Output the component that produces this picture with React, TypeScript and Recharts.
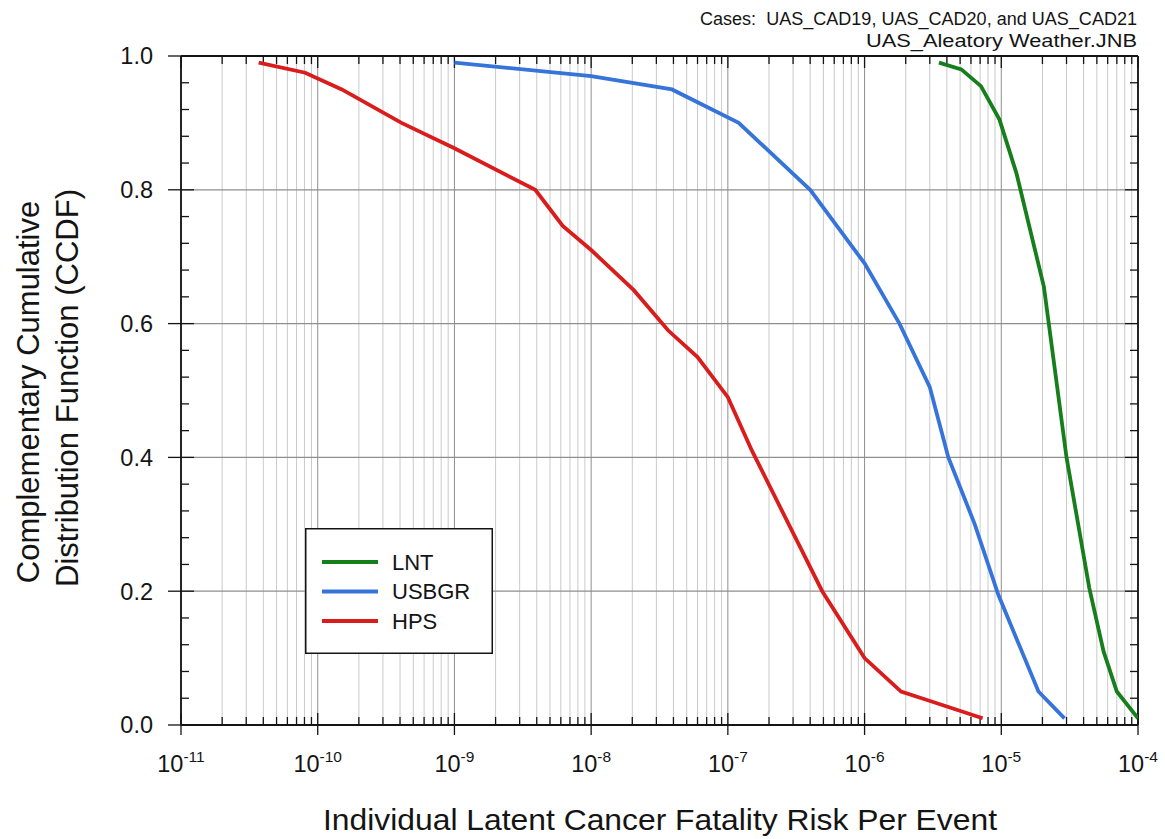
import { LineChart, Line, XAxis, YAxis, ReferenceLine, Legend } from 'recharts'

const FONT = '"Liberation Sans", Arial, Helvetica, sans-serif'
const INK = '#141414'

// axis structure
const xDecades = [1e-11, 1e-10, 1e-9, 1e-8, 1e-7, 1e-6, 1e-5, 1e-4]
const xMinor = xDecades.slice(0, -1).flatMap(d => [2, 3, 4, 5, 6, 7, 8, 9].map(m => m * d))
const yTicks = [0, 0.2, 0.4, 0.6, 0.8, 1]
const yMinor = [
  0.04, 0.08, 0.12, 0.16, 0.24, 0.28, 0.32, 0.36, 0.44, 0.48,
  0.52, 0.56, 0.64, 0.68, 0.72, 0.76, 0.84, 0.88, 0.92, 0.96,
]

// CCDF curves
const lntRisk = [3.5e-6, 5.1e-6, 7.1e-6, 9.7e-6, 1.29e-5, 2.05e-5, 3.0e-5, 4.4e-5, 5.6e-5, 7.0e-5, 1.0e-4]
const lntCcdf = [0.99, 0.98, 0.955, 0.905, 0.825, 0.655, 0.40, 0.205, 0.11, 0.05, 0.01]

const usbgrRisk = [1e-9, 1e-8, 3.9e-8, 1.2e-7, 4e-7, 1e-6, 1.8e-6, 3e-6, 4.1e-6, 6.4e-6, 9.5e-6, 1.87e-5, 2.9e-5]
const usbgrCcdf = [0.99, 0.97, 0.95, 0.90, 0.80, 0.69, 0.60, 0.505, 0.40, 0.30, 0.195, 0.05, 0.01]

const hpsRisk = [
  3.7e-11, 8.1e-11, 1.5e-10, 4.1e-10, 1e-9, 3.9e-9, 6.2e-9, 1e-8, 2.05e-8,
  3.65e-8, 6e-8, 1e-7, 1.5e-7, 4.9e-7, 1e-6, 1.85e-6, 2.9e-6, 7.3e-6,
]
const hpsCcdf = [
  0.99, 0.975, 0.95, 0.90, 0.862, 0.80, 0.746, 0.71, 0.65,
  0.59, 0.55, 0.49, 0.41, 0.20, 0.10, 0.05, 0.037, 0.01,
]

const toPoints = (risk: number[], ccdf: number[]) => risk.map((x, i) => ({ x, y: ccdf[i] }))

const SERIES = [
  { name: 'LNT', color: '#177e1c', data: toPoints(lntRisk, lntCcdf) },
  { name: 'USBGR', color: '#3674d9', data: toPoints(usbgrRisk, usbgrCcdf) },
  { name: 'HPS', color: '#d91d1d', data: toPoints(hpsRisk, hpsCcdf) },
]

// vertical grid line with inward ticks top and bottom
const vGrid = (stroke: string, inner: number) => (p: any) => {
  const top = Math.min(p.y1, p.y2)
  const bottom = Math.max(p.y1, p.y2)
  return (
    <g>
      <line x1={p.x1} x2={p.x1} y1={top} y2={bottom} stroke={stroke} strokeWidth={1} />
      <line x1={p.x1} x2={p.x1} y1={top} y2={top + inner} stroke={INK} strokeWidth={1.3} />
      <line x1={p.x1} x2={p.x1} y1={bottom} y2={bottom - inner} stroke={INK} strokeWidth={1.3} />
    </g>
  )
}

// horizontal grid line (optional) with inward ticks left and right
const hGrid = (stroke: string | null, inner: number) => (p: any) => {
  const left = Math.min(p.x1, p.x2)
  const right = Math.max(p.x1, p.x2)
  return (
    <g>
      {stroke && <line x1={left} x2={right} y1={p.y1} y2={p.y1} stroke={stroke} strokeWidth={1.2} />}
      <line x1={left} x2={left + inner} y1={p.y1} y2={p.y1} stroke={INK} strokeWidth={1.3} />
      <line x1={right} x2={right - inner} y1={p.y1} y2={p.y1} stroke={INK} strokeWidth={1.3} />
    </g>
  )
}

function DecadeTick({ x, y, payload }: any) {
  const exp = Math.round(Math.log10(payload.value))
  return (
    <text x={x} y={y + 35} textAnchor="middle" fontSize={23.5} fontFamily={FONT} fill={INK}>
      10<tspan dy={-10} fontSize={15.5}>{exp}</tspan>
    </text>
  )
}

function ProbTick({ x, y, payload }: any) {
  return (
    <text x={x} y={y} textAnchor="end" dy="0.36em" fontSize={23.5} fontFamily={FONT} fill={INK}>
      {payload.value.toFixed(1)}
    </text>
  )
}

function LegendBox() {
  return (
    <svg width={188} height={126} style={{ display: 'block' }}>
      <rect x={0.75} y={0.75} width={186.5} height={124.5} fill="#fff" stroke={INK} strokeWidth={1.5} />
      {SERIES.map((s, i) => {
        const cy = 34 + i * 29.5
        return (
          <g key={s.name}>
            <line x1={17} x2={73} y1={cy} y2={cy} stroke={s.color} strokeWidth={3.8} />
            <text x={87} y={cy} dy="0.36em" fontSize={22} fontFamily={FONT} fill={INK}>{s.name}</text>
          </g>
        )
      })}
    </svg>
  )
}

export default function App() {
  return (
    <div style={{ position: 'absolute', left: 0, top: 0, width: 1165, height: 839, background: '#fff' }}>
      <svg width={1165} height={60} style={{ position: 'absolute', left: 0, top: 0 }}>
        <text x={1137} y={25} textAnchor="end" fontSize={17.5} fontFamily={FONT} fill={INK}
          textLength={437} lengthAdjust="spacingAndGlyphs">
          {'Cases:\u00a0 UAS_CAD19, UAS_CAD20, and UAS_CAD21'}
        </text>
        <text x={1137} y={47} textAnchor="end" fontSize={17.5} fontFamily={FONT} fill={INK}
          textLength={271} lengthAdjust="spacingAndGlyphs">
          UAS_Aleatory Weather.JNB
        </text>
      </svg>
      <LineChart width={1165} height={839} margin={{ top: 56, right: 27, bottom: 54, left: 111 }}>
        <XAxis
          type="number"
          dataKey="x"
          scale="log"
          domain={[1e-11, 1e-4]}
          allowDataOverflow
          ticks={xDecades}
          interval={0}
          tick={<DecadeTick />}
          tickSize={10}
          tickLine={{ stroke: INK, strokeWidth: 1.3 }}
          axisLine={{ stroke: INK, strokeWidth: 1.8 }}
          height={60}
          label={{
            content: () => (
              <text x={660} y={830} textAnchor="middle" fontSize={29} fontFamily={FONT} fill={INK}
                textLength={674} lengthAdjust="spacingAndGlyphs">
                Individual Latent Cancer Fatality Risk Per Event
              </text>
            ),
          }}
        />
        <YAxis
          type="number"
          domain={[0, 1]}
          ticks={yTicks}
          interval={0}
          width={70}
          tick={<ProbTick />}
          tickSize={13}
          tickMargin={15}
          tickLine={{ stroke: INK, strokeWidth: 1.3 }}
          axisLine={{ stroke: INK, strokeWidth: 1.8 }}
          label={{
            content: () => (
              <g fontFamily={FONT} fill={INK} fontSize={31}>
                <text transform="translate(28,392) rotate(-90)" textAnchor="middle" dy="0.36em">
                  Complementary Cumulative
                </text>
                <text transform="translate(67,388) rotate(-90)" textAnchor="middle" dy="0.36em">
                  Distribution Function (CCDF)
                </text>
              </g>
            ),
          }}
        />

        {xMinor.map(v => (
          <ReferenceLine key={`xm${v}`} x={v} shape={vGrid('#cacaca', 8)} />
        ))}
        {xDecades.map(v => (
          <ReferenceLine key={`xd${v}`} x={v} shape={vGrid('#8e8e8e', 12)} />
        ))}
        {yMinor.map(v => (
          <ReferenceLine key={`ym${v}`} y={v} shape={hGrid(null, 8)} />
        ))}
        {yTicks.map(v => (
          <ReferenceLine key={`yt${v}`} y={v} shape={hGrid('#8e8e8e', 13)} />
        ))}
        <ReferenceLine y={1} stroke={INK} strokeWidth={1.8} />
        <ReferenceLine x={1e-4} stroke={INK} strokeWidth={1.8} />

        {SERIES.map(s => (
          <Line
            key={s.name}
            data={s.data}
            dataKey="y"
            name={s.name}
            type="linear"
            stroke={s.color}
            strokeWidth={3.8}
            dot={false}
            isAnimationActive={false}
          />
        ))}

        <Legend
          layout="vertical"
          align="center"
          verticalAlign="middle"
          wrapperStyle={{ left: 305, top: 528, width: 188, height: 126 }}
          content={() => <LegendBox />}
        />
      </LineChart>
    </div>
  )
}
